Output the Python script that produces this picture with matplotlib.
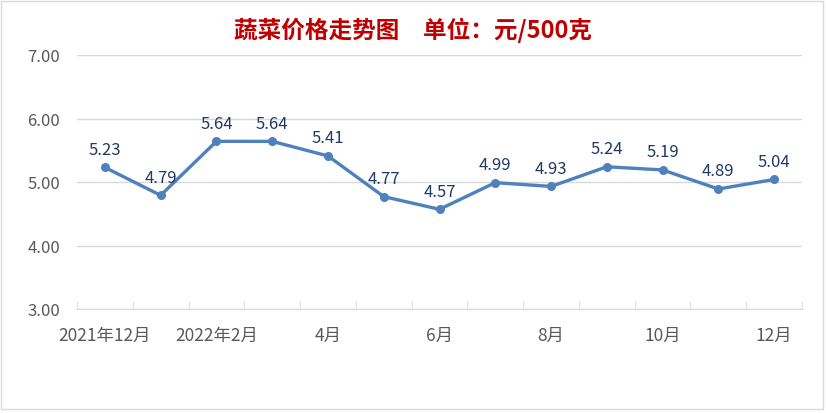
import matplotlib.pyplot as plt
from matplotlib.patches import Rectangle

plt.rcParams['font.family'] = ['Noto Sans CJK SC', 'DejaVu Sans']

# 蔬菜价格 元/500克
months = ['2021年12月', '', '2022年2月', '', '4月', '', '6月', '', '8月', '', '10月', '', '12月']
prices = [5.23, 4.79, 5.64, 5.64, 5.41, 4.77, 4.57, 4.99, 4.93, 5.24, 5.19, 4.89, 5.04]
yticks = [3.00, 4.00, 5.00, 6.00, 7.00]

fig = plt.figure(figsize=(8.26, 4.14), dpi=100)
ax = fig.add_axes([77 / 826, 1 - 310 / 414, 725 / 826, (310 - 56) / 414])

x = list(range(len(prices)))
ax.plot(x, prices, color='#4F81BD', lw=2.4, marker='o', ms=5.5, zorder=3)
for xi, v in zip(x, prices):
    ax.annotate(f'{v:.2f}', (xi, v), xytext=(0, 7), textcoords='offset points',
                ha='center', va='bottom', fontsize=12, color='#1F3864')

ax.set_xlim(-0.5, len(prices) - 0.5)
ax.set_ylim(3, 7)
ax.set_yticks(yticks)
ax.set_yticklabels([f'{t:.2f}' for t in yticks])
ax.set_xticks(x)
ax.set_xticklabels(months)
ax.set_xticks([i - 0.5 for i in range(len(prices) + 1)], minor=True)
ax.tick_params(axis='x', which='major', length=0, pad=12.5, labelsize=12.5)
ax.tick_params(axis='x', which='minor', direction='in', length=6, color='#D9D9D9')
ax.tick_params(axis='y', length=0, pad=12, labelsize=12)
ax.tick_params(labelcolor='#595959')

ax.grid(axis='y', color='#D9D9D9', lw=1)
ax.set_axisbelow(True)
for s in ['top', 'right', 'left']:
    ax.spines[s].set_visible(False)
ax.spines['bottom'].set_color('#D9D9D9')

fig.text(0.5, 1 - 30 / 414, '蔬菜价格走势图　单位：元/500克', ha='center', va='center',
         fontsize=17, fontweight='bold', color='#C00000')

fig.patches.append(Rectangle((1 / 826, 1 - 410 / 414), 822 / 826, 408 / 414,
                             transform=fig.transFigure, fill=False,
                             edgecolor='#D9D9D9', lw=1))

fig.savefig('out.png', dpi=100)
